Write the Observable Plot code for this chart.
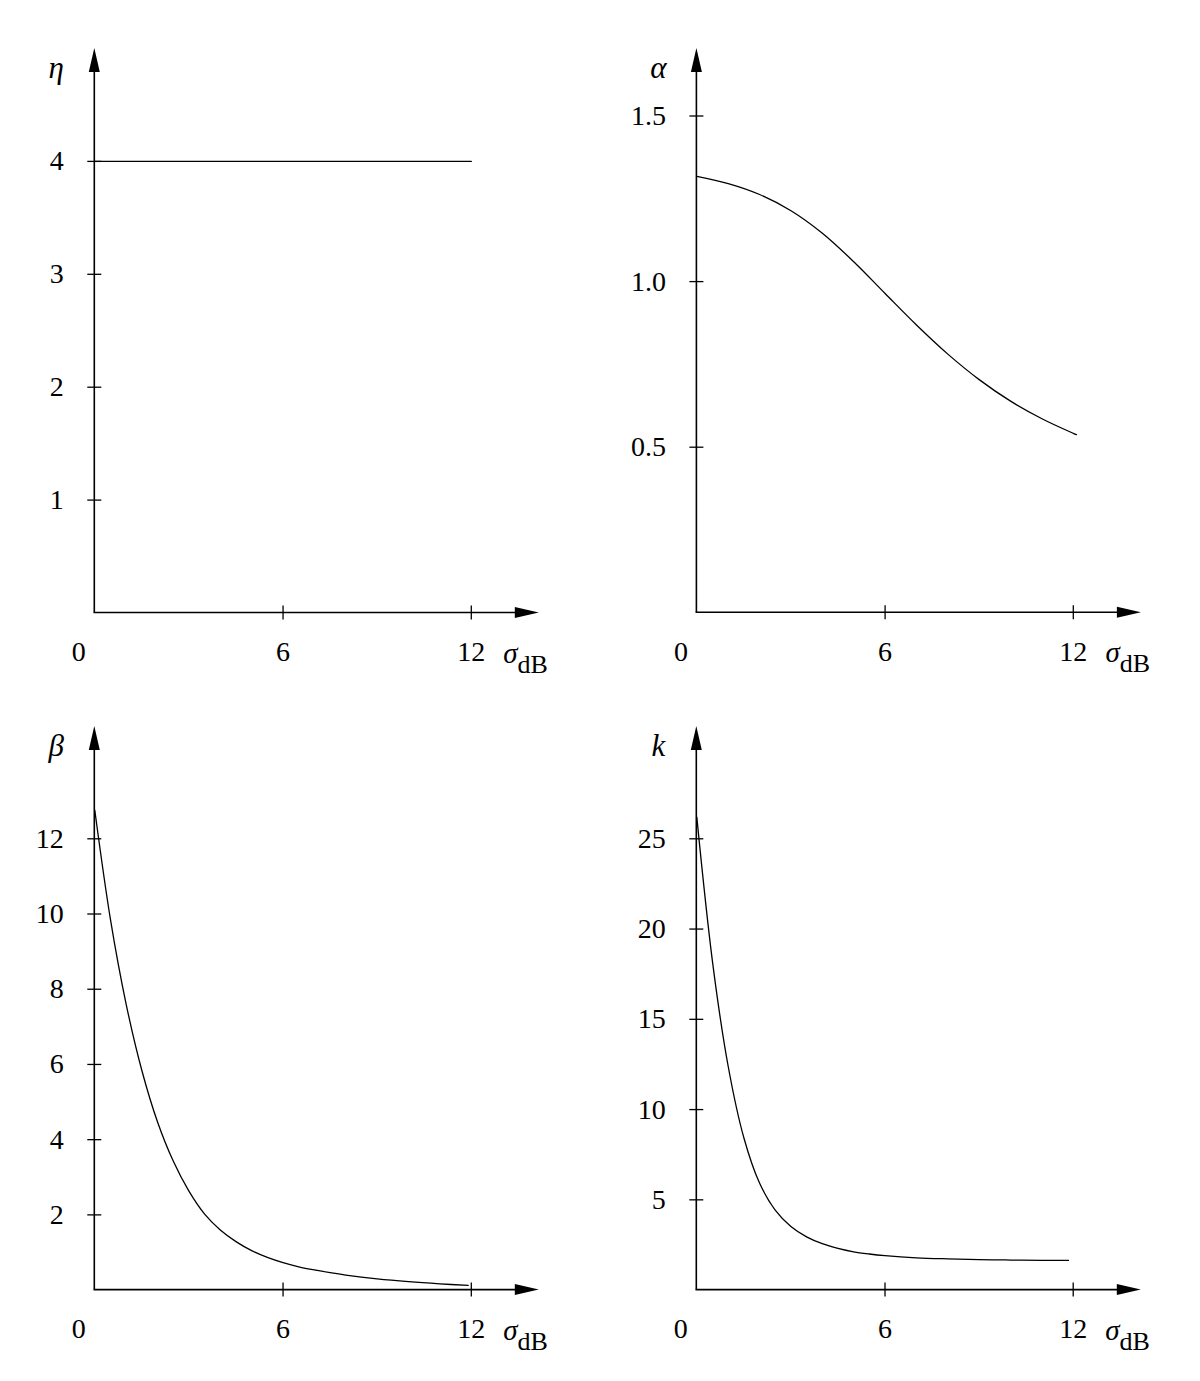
<!DOCTYPE html>
<html><head><meta charset="utf-8">
<script src="https://cdn.jsdelivr.net/npm/d3@7"></script>
<script src="https://cdn.jsdelivr.net/npm/@observablehq/plot@0.6"></script>
<style>
body{margin:0;background:#fff;}
#chart{position:relative;width:1200px;height:1381px;background:#fff;overflow:hidden;}
#chart svg{position:absolute;}
</style></head><body><div id="chart"></div>
<script>
// ---- data ----
const xTicks = [0, 6, 12];

const etaX = [0, 12];
const etaY = [4, 4];
const etaTicks = [1, 2, 3, 4];

const alphaX = [0, 1, 2, 3, 4, 5, 6, 7, 8, 9, 10, 11, 12, 12.1];
const alphaY = [1.318, 1.296, 1.263, 1.214, 1.146, 1.060, 0.964, 0.869, 0.781, 0.704, 0.639, 0.586, 0.542, 0.538];
const alphaTicks = [0.5, 1.0, 1.5];

const betaX = [0, 0.5, 1, 1.5, 2, 2.5, 3, 3.5, 4, 4.5, 5, 5.5, 6, 6.5, 7, 7.5, 8, 9, 10, 11, 11.9];
const betaY = [12.76, 9.85, 7.60, 5.84, 4.47, 3.43, 2.63, 2.02, 1.60, 1.29, 1.05, 0.87, 0.73, 0.62, 0.535, 0.463, 0.40, 0.30, 0.225, 0.167, 0.125];
const betaTicks = [2, 4, 6, 8, 10, 12];

const kX = [0, 0.5, 1, 1.5, 2, 2.5, 3, 3.5, 4, 4.5, 5, 5.5, 6, 7, 8, 9, 10, 11, 11.85];
const kY = [26.2, 18.2, 12.4, 8.44, 5.93, 4.43, 3.52, 2.95, 2.57, 2.31, 2.12, 2.0, 1.91, 1.79, 1.73, 1.69, 1.666, 1.651, 1.643];
const kTicks = [5, 10, 15, 20, 25];

const FONT = "'Liberation Serif', 'DejaVu Serif', serif";
const chart = document.getElementById("chart");

function panel(cfg) {
  const rows = cfg.xs.map((x, i) => ({x, y: cfg.ys[i]}));
  const xt = xTicks.filter(d => d > 0);
  const svg = Plot.plot({
    width: 600, height: cfg.height,
    style: {background: "transparent", fontFamily: FONT, overflow: "visible", color: "#000"},
    x: {domain: [0, 12], range: cfg.xRange, axis: null},
    y: {domain: [0, cfg.yTop], range: cfg.yRange, axis: null},
    marks: [
      Plot.ruleY(cfg.yTicks, {y: d => d, x1: 0, x2: 0, insetLeft: -7, insetRight: -7, stroke: "#000", strokeWidth: 1.3}),
      Plot.ruleX(xt, {x: d => d, y1: 0, y2: 0, insetTop: -7, insetBottom: -7, stroke: "#000", strokeWidth: 1.3}),
      Plot.text(cfg.yTicks, {x: 0, y: d => d, text: d => cfg.fmt(d), textAnchor: "end", dx: -31, fontSize: 28, fill: "#000"}),
      Plot.text(xt, {x: d => d, y: 0, text: d => String(d), dy: 39, fontSize: 28, fill: "#000"}),
      Plot.text([0], {x: 0, y: 0, text: d => String(d), dx: -16, dy: 39, fontSize: 28, fill: "#000"}),
      Plot.line(rows, {x: "x", y: "y", stroke: "#000", strokeWidth: 1.3, curve: "catmull-rom"})
    ]
  });
  svg.style.left = cfg.left + "px";
  svg.style.top = cfg.top + "px";
  chart.appendChild(svg);

  const x0 = svg.scale("x").apply(0), y0 = svg.scale("y").apply(0);
  const g = d3.select(svg).append("g").attr("fill", "#000").attr("font-family", FONT).attr("text-anchor", "start");
  const tipX = x0 + 444.5, tipY = cfg.tipY;
  g.append("line").attr("x1", x0 - 0.8).attr("x2", tipX - 20).attr("y1", y0).attr("y2", y0)
    .attr("stroke", "#000").attr("stroke-width", 1.6);
  g.append("line").attr("x1", x0).attr("x2", x0).attr("y1", y0).attr("y2", tipY + 20)
    .attr("stroke", "#000").attr("stroke-width", 1.6);
  g.append("path").attr("d", `M${tipX},${y0}L${tipX - 24},${y0 - 5.5}L${tipX - 24},${y0 + 5.5}Z`);
  g.append("path").attr("d", `M${x0},${tipY}L${x0 - 5.5},${tipY + 24}L${x0 + 5.5},${tipY + 24}Z`);
  g.append("text").attr("x", x0 - 38).attr("y", tipY + 30).attr("text-anchor", "middle")
    .attr("font-style", "italic").attr("font-size", 31).text(cfg.name);
  const t = g.append("text").attr("x", x0 + 409).attr("y", y0 + 50).attr("font-size", 29).attr("text-anchor", "start");
  t.append("tspan").attr("font-style", "italic").text("σ");
  t.append("tspan").attr("font-size", 26).attr("dy", 10).text("dB");
}

panel({name: "η", xs: etaX, ys: etaY, yTicks: etaTicks, yTop: 4, fmt: d => String(d),
  left: 0, top: 0, height: 690, xRange: [94.3, 470.8], yRange: [612.5, 160.9], tipY: 48});
panel({name: "α", xs: alphaX, ys: alphaY, yTicks: alphaTicks, yTop: 1.5, fmt: d => d.toFixed(1),
  left: 600, top: 0, height: 690, xRange: [96.4, 472.8], yRange: [612.3, 115.5], tipY: 48});
panel({name: "β", xs: betaX, ys: betaY, yTicks: betaTicks, yTop: 12, fmt: d => String(d),
  left: 0, top: 690, height: 691, xRange: [94.3, 470.8], yRange: [599.6, 148.3], tipY: 36});
panel({name: "k", xs: kX, ys: kY, yTicks: kTicks, yTop: 25, fmt: d => String(d),
  left: 600, top: 690, height: 691, xRange: [96.3, 472.7], yRange: [599.6, 148.3], tipY: 36});
</script>
</body></html>
